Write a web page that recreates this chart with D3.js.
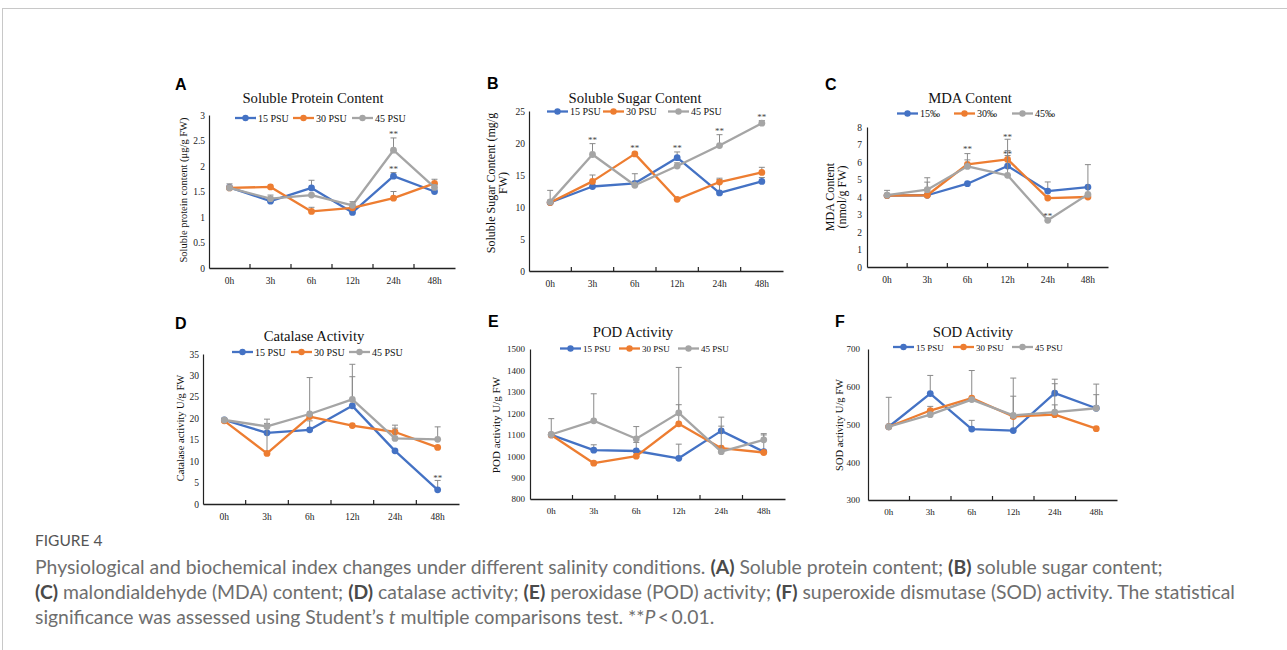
<!DOCTYPE html>
<html>
<head>
<meta charset="utf-8">
<script src="https://cdn.jsdelivr.net/npm/d3@7"></script>
<style>
body { margin: 0; background: #fff; }
.serif { font-family: "Liberation Serif", "Times New Roman", serif; }
</style>
</head>
<body>
<script>
// shared categories / legend
var categories = ["0h", "3h", "6h", "12h", "24h", "48h"];
var psuNames = ["15 PSU", "30 PSU", "45 PSU"];
var permilNames = ["15‰", "30‰", "45‰"];
var colors = ["#4472C4", "#ED7D31", "#A5A5A5"];

// A. soluble protein (μg/g FW)
var protein15 = [1.58, 1.31, 1.57, 1.09, 1.80, 1.50];
var protein30 = [1.57, 1.59, 1.11, 1.18, 1.37, 1.66];
var protein45 = [1.57, 1.36, 1.43, 1.23, 2.31, 1.58];
var proteinErr15 = [null, null, 0.15, null, 0.07, null];
var proteinErr30 = [null, null, 0.08, null, 0.13, 0.08];
var proteinErr45 = [0.08, 0.07, null, 0.07, 0.24, 0.05];
var proteinSig = [["24h", 2.64], ["24h", 1.96]];

// B. soluble sugar (mg/g FW)
var sugar15 = [10.7, 13.2, 13.7, 17.7, 12.2, 14.0];
var sugar30 = [10.7, 14.0, 18.3, 11.2, 13.9, 15.4];
var sugar45 = [10.8, 18.2, 13.4, 16.4, 19.6, 23.1];
var sugarErr15 = [null, null, null, 0.9, 2.3, 0.6];
var sugarErr30 = [null, 1.0, null, null, 0.4, 0.8];
var sugarErr45 = [1.8, 1.7, 1.8, 0.5, 1.7, 0.4];
var sugarSig = [["3h", 20.6], ["6h", 19.4], ["12h", 19.4], ["24h", 22.0], ["48h", 24.2]];

// C. MDA (nmol/g FW)
var mda15 = [4.08, 4.10, 4.76, 5.77, 4.34, 4.57];
var mda30 = [4.08, 4.10, 5.87, 6.15, 3.94, 4.00];
var mda45 = [4.11, 4.42, 5.75, 5.24, 2.67, 4.15];
var mdaErr15 = [null, 0.75, null, 0.6, 0.52, null];
var mdaErr30 = [null, null, 0.25, 0.5, null, null];
var mdaErr45 = [0.27, 0.68, 0.73, 2.06, null, 1.7];
var mdaSig = [["6h", 6.8], ["12h", 7.5], ["12h", 6.5], ["24h", 2.95]];

// D. catalase (U/g FW)
var cat15 = [19.6, 16.6, 17.3, 22.9, 12.4, 3.3];
var cat30 = [19.4, 11.8, 20.4, 18.3, 16.8, 13.2];
var cat45 = [19.6, 18.1, 21.0, 24.4, 15.3, 15.1];
var catErr15 = [null, null, 2.1, 6.8, null, 2.2];
var catErr30 = [null, 7.0, null, null, 1.6, null];
var catErr45 = [0.3, 1.7, 8.5, 8.2, 2.4, 2.9];
var catSig = [["48h", 6.2]];

// E. POD (U/g FW)
var pod15 = [1099, 1028, 1024, 990, 1118, 1021];
var pod30 = [1099, 967, 1000, 1151, 1037, 1017];
var pod45 = [1101, 1165, 1081, 1202, 1021, 1076];
var podErr15 = [null, 25, 40, 66, 64, 78];
var podErr30 = [null, null, null, 89, null, null];
var podErr45 = [74, 126, 57, 212, 119, 29];

// F. SOD (U/g FW)
var sod15 = [494, 582, 488, 484, 583, 543];
var sod30 = [494, 537, 570, 521, 526, 489];
var sod45 = [494, 526, 566, 524, 533, 543];
var sodErr15 = [78, 48, 23, 32, 37, 64];
var sodErr30 = [null, 11, 73, 54, 26, null];
var sodErr45 = [null, null, null, 99, 75, 36];

var W = 1287, H = 650;
var svg = d3.select("body").append("svg")
  .attr("width", W).attr("height", H);

// card frame
svg.append("rect")
  .attr("x", 2.5).attr("y", 8.5).attr("width", 1400).attr("height", 800)
  .attr("fill", "none").attr("stroke", "#c8c8c8");

var panels = [
  { letter: "A", lx: 175, ly: 90, title: "Soluble Protein Content", tx: 313, ty: 103, tfs: 14.7,
    x0: 209, x1: 455, yTop: 115, yBot: 268, domain: [0, 3], step: 0.5, fs: 9.5, pad: 4,
    ytitle: ["Soluble protein content (μg/g FW)"], ytx: [187], yty: 190, ytfs: 10.5,
    legY: 118, legX: [235, 293, 352], legFs: 10, names: psuNames,
    vals: [protein15, protein30, protein45], errs: [proteinErr15, proteinErr30, proteinErr45], sig: proteinSig },
  { letter: "B", lx: 487, ly: 89, title: "Soluble Sugar Content", tx: 635, ty: 103, tfs: 14.7,
    x0: 529, x1: 783, yTop: 111, yBot: 271, domain: [0, 25], step: 5, fs: 9.5, pad: 4,
    ytitle: ["Soluble Sugar Content (mg/g", "FW)"], ytx: [495, 507], yty: 183, ytfs: 12,
    legY: 111.5, legX: [547, 603, 668], legFs: 10, names: psuNames,
    vals: [sugar15, sugar30, sugar45], errs: [sugarErr15, sugarErr30, sugarErr45], sig: sugarSig },
  { letter: "C", lx: 825, ly: 90, title: "MDA Content", tx: 970, ty: 103, tfs: 14.7,
    x0: 867, x1: 1108, yTop: 127, yBot: 267, domain: [0, 8], step: 1, fs: 9.5, pad: 5,
    ytitle: ["MDA Content", "(nmol/g FW)"], ytx: [834, 846], yty: 197, ytfs: 12,
    legY: 113.5, legX: [897, 954, 1012], legFs: 10, names: permilNames,
    vals: [mda15, mda30, mda45], errs: [mdaErr15, mdaErr30, mdaErr45], sig: mdaSig },
  { letter: "D", lx: 175, ly: 329, title: "Catalase Activity", tx: 314, ty: 341, tfs: 14.7,
    x0: 203, x1: 459, yTop: 354, yBot: 504, domain: [0, 35], step: 5, fs: 9.5, pad: 4,
    ytitle: ["Catalase  activity U/g FW"], ytx: [184], yty: 428, ytfs: 10.5,
    legY: 352, legX: [232, 291, 349], legFs: 10, names: psuNames,
    vals: [cat15, cat30, cat45], errs: [catErr15, catErr30, catErr45], sig: catSig },
  { letter: "E", lx: 488, ly: 327, title: "POD Activity", tx: 633, ty: 337, tfs: 14.7,
    x0: 530, x1: 785, yTop: 349, yBot: 499, domain: [800, 1500], step: 100, fs: 9, pad: 5,
    ytitle: ["POD activity U/g FW"], ytx: [500], yty: 425, ytfs: 11,
    legY: 348.5, legX: [560, 619, 678], legFs: 9, names: psuNames,
    vals: [pod15, pod30, pod45], errs: [podErr15, podErr30, podErr45], sig: [] },
  { letter: "F", lx: 835, ly: 327, title: "SOD Activity", tx: 973, ty: 337, tfs: 14.7,
    x0: 868, x1: 1117, yTop: 349, yBot: 500, domain: [300, 700], step: 100, fs: 9, pad: 8,
    ytitle: ["SOD activity U/g FW"], ytx: [843], yty: 425, ytfs: 10.5,
    legY: 347, legX: [893, 953, 1012], legFs: 9, names: psuNames,
    vals: [sod15, sod30, sod45], errs: [sodErr15, sodErr30, sodErr45], sig: [] }
];

panels.forEach(drawPanel);

function drawPanel(p) {
  var g = svg.append("g");
  var x = d3.scaleBand().domain(categories).range([p.x0, p.x1]);
  var y = d3.scaleLinear().domain(p.domain).range([p.yBot, p.yTop]);
  var cx = function(c) { return x(c) + x.bandwidth() / 2; };

  // panel letter + title
  g.append("text").attr("x", p.lx).attr("y", p.ly)
    .style("font-family", "'Liberation Sans', Arial, sans-serif")
    .style("font-weight", "bold").style("font-size", "16px").text(p.letter);
  g.append("text").attr("class", "serif").attr("x", p.tx).attr("y", p.ty)
    .attr("text-anchor", "middle").style("font-size", p.tfs + "px").attr("fill", "#111")
    .text(p.title);

  // y axis
  var ticks = d3.range(p.domain[0], p.domain[1] + p.step / 2, p.step);
  var yAxis = g.append("g").attr("transform", "translate(" + p.x0 + ",0)")
    .call(d3.axisLeft(y).tickValues(ticks).tickSize(0).tickPadding(p.pad)
      .tickFormat(function(d) { return +d.toFixed(2) + ""; }));
  yAxis.select(".domain").attr("stroke", "#222").attr("stroke-width", 1.2);
  yAxis.selectAll("text").attr("class", "serif").style("font-size", p.fs + "px").attr("fill", "#222");

  // x axis (labels centred, ticks on category boundaries)
  var xAxis = g.append("g").attr("transform", "translate(0," + p.yBot + ")")
    .call(d3.axisBottom(x).tickSize(0).tickPadding(9));
  xAxis.select(".domain").attr("stroke", "#222").attr("stroke-width", 1.6);
  xAxis.selectAll("text").attr("class", "serif").style("font-size", p.fs + "px").attr("fill", "#222");
  categories.slice(1).forEach(function(c) {
    g.append("line").attr("x1", x(c)).attr("x2", x(c))
      .attr("y1", p.yBot).attr("y2", p.yBot - 4)
      .attr("stroke", "#222").attr("stroke-width", 1.2);
  });

  var line = d3.line().x(function(d) { return cx(d.c); }).y(function(d) { return y(d.v); });

  p.vals.forEach(function(vals, si) {
    var pts = vals.map(function(v, i) { return { c: categories[i], v: v, e: p.errs[si][i] }; });
    g.append("path").datum(pts).attr("d", line)
      .attr("fill", "none").attr("stroke", colors[si]).attr("stroke-width", 2.3)
      .attr("stroke-linejoin", "round");
    // upper error bars
    pts.filter(function(d) { return d.e != null; }).forEach(function(d) {
      var xx = cx(d.c);
      g.append("line").attr("x1", xx).attr("x2", xx)
        .attr("y1", y(d.v)).attr("y2", y(d.v + d.e))
        .attr("stroke", "#8a8a8a").attr("stroke-width", 1);
      g.append("line").attr("x1", xx - 3).attr("x2", xx + 3)
        .attr("y1", y(d.v + d.e)).attr("y2", y(d.v + d.e))
        .attr("stroke", "#8a8a8a").attr("stroke-width", 1);
    });
    g.selectAll(null).data(pts).enter().append("circle")
      .attr("cx", function(d) { return cx(d.c); })
      .attr("cy", function(d) { return y(d.v); })
      .attr("r", 3.4).attr("fill", colors[si]);
  });

  // significance marks
  p.sig.forEach(function(s) {
    g.append("text").attr("class", "serif").attr("x", cx(s[0])).attr("y", y(s[1]) + 4)
      .attr("text-anchor", "middle").style("font-size", "9px").attr("fill", "#444").text("**");
  });

  // y title
  p.ytitle.forEach(function(t, i) {
    g.append("text").attr("class", "serif")
      .attr("transform", "translate(" + p.ytx[i] + "," + p.yty + ") rotate(-90)")
      .attr("text-anchor", "middle").style("font-size", p.ytfs + "px").attr("fill", "#111")
      .text(t);
  });

  // legend
  p.names.forEach(function(n, i) {
    var lx = p.legX[i];
    g.append("line").attr("x1", lx).attr("x2", lx + 21).attr("y1", p.legY).attr("y2", p.legY)
      .attr("stroke", colors[i]).attr("stroke-width", 2.3);
    g.append("circle").attr("cx", lx + 10.5).attr("cy", p.legY).attr("r", 3.2).attr("fill", colors[i]);
    g.append("text").attr("class", "serif").attr("x", lx + 23).attr("y", p.legY + 3.5)
      .style("font-size", p.legFs + "px").attr("fill", "#111").text(n);
  });
}

// caption
var capFont = "Lato, 'Open Sans', sans-serif";
var capLines = [
  [["Physiological and biochemical index changes under different salinity conditions. ", ""], ["(A)", "b"], [" Soluble protein content; ", ""], ["(B)", "b"], [" soluble sugar content;", ""]],
  [["(C)", "b"], [" malondialdehyde (MDA) content; ", ""], ["(D)", "b"], [" catalase activity; ", ""], ["(E)", "b"], [" peroxidase (POD) activity; ", ""], ["(F)", "b"], [" superoxide dismutase (SOD) activity. The statistical", ""]],
  [["significance was assessed using Student\u2019s ", ""], ["t", "i"], [" multiple comparisons test. **", ""], ["P", "i"], ["\u2009<\u20090.01.", ""]]
];
var capY = [574, 599, 624];

svg.append("text").attr("x", 35).attr("y", 546)
  .style("font-family", capFont).style("font-size", "15.5px").attr("fill", "#555")
  .text("FIGURE 4");

var capTexts = capLines.map(function(parts, li) {
  var t = svg.append("text").attr("x", 35).attr("y", capY[li])
    .style("font-family", capFont).style("font-size", "17px").attr("fill", "#6e6e6e");
  parts.forEach(function(pt) {
    var ts = t.append("tspan").text(pt[0]);
    if (pt[1] === "b") ts.style("font-weight", "bold").attr("fill", "#4a4a4a");
    if (pt[1] === "i") ts.style("font-style", "italic");
  });
  return t;
});
// fit caption size to the reference width of line 2 (about 1200px)
var w2 = capTexts[1].node().getComputedTextLength();
var fsFit = 17 * 1200 / w2;
capTexts.forEach(function(t) { t.style("font-size", fsFit.toFixed(2) + "px"); });
</script>
</body>
</html>
